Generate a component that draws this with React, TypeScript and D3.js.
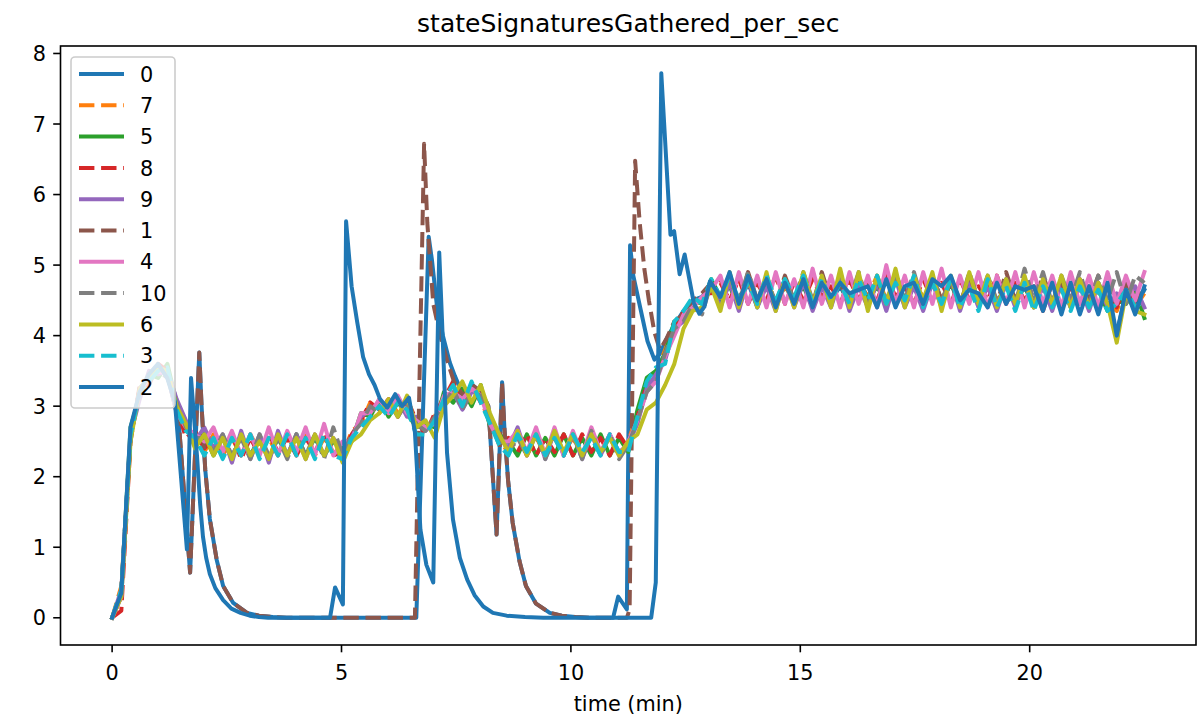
import React from 'react';
import * as d3 from 'd3';

// ---------- data ----------
// shared sampling grid (minutes) for the regularly-sampled series
const time: number[] = d3.range(113).map((i) => (i * 22.5) / 112);

const s7 = [0, 0.45, 2.55, 3.25, 3.35, 3.55, 3.45, 2.95, 2.65, 2.6,
  2.35, 2.6, 2.3, 2.55, 2.3, 2.6, 2.35, 2.55, 2.3, 2.6,
  2.35, 2.6, 2.3, 2.55, 2.35, 2.3, 2.65, 2.75, 3.05, 2.9,
  3.1, 2.9, 3.05, 2.75, 2.65, 2.85, 3.15, 3.3, 3.05, 3.25,
  3.1, 2.75, 2.5, 2.35, 2.6, 2.3, 2.55, 2.35, 2.6, 2.35,
  2.55, 2.3, 2.6, 2.35, 2.55, 2.3, 2.5, 2.9, 3.35, 3.45,
  3.8, 4.15, 4.3, 4.45, 4.5, 4.75, 4.5, 4.8, 4.45, 4.75,
  4.5, 4.8, 4.45, 4.7, 4.5, 4.85, 4.5, 4.75, 4.45, 4.8,
  4.5, 4.75, 4.55, 4.85, 4.5, 4.8, 4.45, 4.75, 4.55, 4.85,
  4.5, 4.8, 4.5, 4.7, 4.45, 4.75, 4.5, 4.8, 4.45, 4.7,
  4.45, 4.75, 4.4, 4.7, 4.45, 4.75, 4.4, 4.7, 4.45, 4.35,
  4.7, 4.4, 4.6];

const s5 = [0, 0.35, 2.7, 3.15, 3.45, 3.4, 3.6, 3.05, 2.75, 2.5,
  2.6, 2.3, 2.55, 2.25, 2.6, 2.3, 2.55, 2.25, 2.55, 2.3,
  2.6, 2.3, 2.55, 2.3, 2.5, 2.4, 2.5, 2.9, 2.85, 3.1,
  2.85, 3.05, 2.9, 2.7, 2.75, 2.7, 3.2, 3.05, 3.25, 3.0,
  3.3, 2.7, 2.6, 2.5, 2.3, 2.6, 2.3, 2.55, 2.3, 2.6,
  2.3, 2.55, 2.3, 2.6, 2.3, 2.55, 2.35, 2.95, 3.4, 3.5,
  3.75, 4.2, 4.25, 4.5, 4.45, 4.8, 4.55, 4.7, 4.4, 4.8,
  4.45, 4.75, 4.4, 4.8, 4.5, 4.7, 4.4, 4.8, 4.5, 4.75,
  4.4, 4.8, 4.5, 4.7, 4.45, 4.85, 4.5, 4.7, 4.4, 4.8,
  4.45, 4.75, 4.4, 4.8, 4.5, 4.7, 4.4, 4.75, 4.5, 4.7,
  4.4, 4.7, 4.45, 4.75, 4.4, 4.7, 4.45, 4.65, 4.35, 4.5,
  4.45, 4.65, 4.25];

const s8 = [0, 0.1, 2.5, 3.3, 3.3, 3.6, 3.5, 3.0, 2.55, 2.65,
  2.4, 2.55, 2.35, 2.6, 2.25, 2.55, 2.3, 2.6, 2.35, 2.55,
  2.3, 2.55, 2.35, 2.6, 2.3, 2.35, 2.6, 2.8, 3.05, 2.95,
  3.1, 2.85, 3.1, 2.8, 2.6, 2.9, 3.1, 3.35, 3.0, 3.3,
  3.05, 2.8, 2.45, 2.55, 2.35, 2.6, 2.3, 2.55, 2.35, 2.6,
  2.3, 2.6, 2.35, 2.55, 2.3, 2.6, 2.4, 2.85, 3.3, 3.4,
  3.7, 4.05, 4.35, 4.4, 4.6, 4.6, 4.75, 4.5, 4.8, 4.45,
  4.75, 4.5, 4.85, 4.45, 4.75, 4.5, 4.8, 4.55, 4.7, 4.45,
  4.8, 4.5, 4.75, 4.5, 4.85, 4.55, 4.7, 4.45, 4.8, 4.5,
  4.75, 4.45, 4.8, 4.5, 4.7, 4.5, 4.85, 4.45, 4.75, 4.5,
  4.7, 4.35, 4.75, 4.4, 4.7, 4.45, 4.75, 4.35, 4.7, 4.4,
  4.75, 4.5, 4.55];

const s9 = [0, 0.4, 2.6, 3.1, 3.5, 3.45, 3.5, 3.1, 2.8, 2.5,
  2.7, 2.4, 2.6, 2.2, 2.65, 2.25, 2.6, 2.2, 2.65, 2.3,
  2.6, 2.25, 2.6, 2.3, 2.55, 2.3, 2.55, 2.85, 2.95, 3.0,
  2.95, 3.1, 2.85, 2.85, 2.65, 2.8, 3.05, 3.2, 2.95, 3.2,
  3.2, 2.85, 2.55, 2.4, 2.7, 2.3, 2.65, 2.25, 2.65, 2.3,
  2.6, 2.25, 2.6, 2.3, 2.6, 2.35, 2.45, 2.75, 3.25, 3.45,
  3.65, 4.1, 4.2, 4.45, 4.5, 4.7, 4.4, 4.75, 4.35, 4.8,
  4.4, 4.7, 4.35, 4.8, 4.4, 4.75, 4.35, 4.7, 4.4, 4.8,
  4.35, 4.7, 4.4, 4.75, 4.35, 4.8, 4.4, 4.7, 4.35, 4.75,
  4.4, 4.8, 4.35, 4.75, 4.4, 4.7, 4.35, 4.75, 4.4, 4.8,
  4.4, 4.7, 4.35, 4.75, 4.4, 4.7, 4.35, 4.75, 4.4, 4.6,
  4.5, 4.7, 4.4];

const s4 = [0, 0.3, 2.65, 3.2, 3.4, 3.5, 3.45, 2.9, 2.7, 2.6,
  2.5, 2.7, 2.35, 2.65, 2.3, 2.6, 2.3, 2.7, 2.3, 2.65,
  2.35, 2.7, 2.3, 2.75, 2.3, 2.5, 2.5, 2.9, 2.9, 3.1,
  2.9, 3.15, 2.9, 2.8, 2.7, 2.75, 3.15, 3.2, 3.1, 3.25,
  3.15, 2.75, 2.5, 2.5, 2.65, 2.35, 2.7, 2.3, 2.7, 2.3,
  2.65, 2.3, 2.7, 2.35, 2.6, 2.3, 2.5, 2.8, 3.2, 3.35,
  3.7, 4.0, 4.3, 4.4, 4.55, 4.65, 4.85, 4.4, 4.9, 4.45,
  4.85, 4.4, 4.9, 4.45, 4.8, 4.4, 4.95, 4.45, 4.85, 4.4,
  4.9, 4.45, 4.85, 4.4, 5.0, 4.45, 4.85, 4.4, 4.9, 4.45,
  4.95, 4.4, 4.85, 4.45, 4.9, 4.4, 4.85, 4.45, 4.9, 4.4,
  4.9, 4.45, 4.85, 4.4, 4.9, 4.45, 4.85, 4.4, 4.9, 4.45,
  4.85, 4.5, 4.9];

const s10 = [0, 0.35, 2.6, 3.2, 3.45, 3.5, 3.4, 3.05, 2.7, 2.55,
  2.55, 2.35, 2.6, 2.3, 2.55, 2.25, 2.6, 2.3, 2.55, 2.25,
  2.6, 2.3, 2.6, 2.25, 2.7, 2.3, 2.6, 2.75, 3.0, 2.9,
  3.05, 2.85, 3.05, 2.75, 2.65, 2.85, 3.0, 3.25, 2.95, 3.2,
  3.15, 2.75, 2.55, 2.35, 2.55, 2.3, 2.6, 2.25, 2.55, 2.3,
  2.6, 2.25, 2.65, 2.3, 2.6, 2.25, 2.45, 2.8, 3.2, 3.35,
  3.75, 4.1, 4.2, 4.45, 4.3, 4.75, 4.5, 4.85, 4.5, 4.9,
  4.5, 4.85, 4.45, 4.8, 4.5, 4.9, 4.5, 4.8, 4.45, 4.85,
  4.5, 4.9, 4.45, 4.8, 4.5, 4.85, 4.5, 4.9, 4.45, 4.85,
  4.5, 4.8, 4.45, 4.9, 4.5, 4.85, 4.5, 4.8, 4.45, 4.95,
  4.5, 4.9, 4.45, 4.85, 4.5, 4.9, 4.45, 4.85, 4.5, 4.9,
  4.45, 4.85, 4.75];

const s6 = [0, 0.3, 2.5, 3.25, 3.4, 3.55, 3.5, 3.0, 2.75, 2.4,
  2.6, 2.3, 2.55, 2.25, 2.6, 2.3, 2.5, 2.25, 2.6, 2.3,
  2.55, 2.25, 2.6, 2.3, 2.55, 2.2, 2.5, 2.6, 2.8, 2.9,
  3.1, 2.85, 3.15, 2.7, 2.8, 2.55, 3.0, 3.15, 3.35, 3.05,
  3.3, 2.9, 2.6, 2.35, 2.65, 2.3, 2.6, 2.3, 2.65, 2.35,
  2.6, 2.3, 2.6, 2.35, 2.55, 2.3, 2.5, 2.6, 2.95, 3.05,
  3.3, 3.6, 4.1, 4.35, 4.4, 4.7, 4.35, 4.9, 4.4, 4.85,
  4.4, 4.9, 4.35, 4.8, 4.4, 4.9, 4.45, 4.85, 4.4, 4.95,
  4.4, 4.9, 4.35, 4.85, 4.45, 4.95, 4.4, 4.85, 4.5, 4.9,
  4.35, 4.85, 4.4, 4.9, 4.45, 4.85, 4.4, 4.8, 4.45, 4.85,
  4.4, 4.8, 4.45, 4.85, 4.4, 4.8, 4.4, 4.75, 4.45, 3.9,
  4.6, 4.35, 4.3];

const s3 = [0, 0.4, 2.6, 3.2, 3.35, 3.5, 3.55, 2.95, 2.65, 2.55,
  2.3, 2.55, 2.25, 2.55, 2.3, 2.6, 2.25, 2.55, 2.3, 2.6,
  2.3, 2.55, 2.25, 2.6, 2.3, 2.25, 2.55, 2.7, 2.85, 3.0,
  2.85, 3.05, 2.95, 2.6, 2.6, 2.8, 3.1, 3.3, 3.0, 3.35,
  3.05, 2.75, 2.45, 2.3, 2.6, 2.35, 2.6, 2.3, 2.55, 2.3,
  2.6, 2.35, 2.55, 2.3, 2.6, 2.35, 2.35, 2.85, 3.35, 3.55,
  3.6, 4.2, 4.35, 4.55, 4.45, 4.8, 4.55, 4.85, 4.5, 4.75,
  4.45, 4.85, 4.5, 4.8, 4.55, 4.85, 4.45, 4.8, 4.5, 4.75,
  4.45, 4.8, 4.5, 4.85, 4.45, 4.75, 4.5, 4.85, 4.4, 4.75,
  4.45, 4.8, 4.4, 4.7, 4.35, 4.8, 4.4, 4.7, 4.35, 4.75,
  4.35, 4.7, 4.4, 4.65, 4.35, 4.7, 4.4, 4.65, 4.35, 4.45,
  4.65, 4.4, 4.5];

// irregular segments [time, value] of the three series that drop out
const s0Head: [number, number][] = [
  [0, 0], [0.2, 0.3], [0.4, 2.55], [0.6, 3.25], [0.8, 3.4], [1.0, 3.55], [1.2, 3.45], [1.45, 2.8],
  [1.7, 0.64], [1.9, 3.76], [1.95, 3.0], [2.03, 2.1], [2.13, 1.4], [2.28, 0.82], [2.42, 0.45],
  [2.64, 0.21], [2.94, 0.07], [3.2, 0.03], [3.5, 0.01], [3.8, 0], [6.63, 0], [6.9, 5.4],
  [6.97, 5.08], [7.08, 4.42], [7.21, 4.0], [7.36, 3.62], [7.47, 3.43], [7.65, 3.15], [7.85, 3.3],
  [8.05, 3.2], [8.2, 3.0], [8.38, 1.18], [8.5, 3.34], [8.55, 2.7], [8.63, 1.95], [8.73, 1.35],
  [8.88, 0.8], [9.02, 0.45], [9.24, 0.2], [9.54, 0.07], [9.8, 0.03], [10.1, 0.01], [10.4, 0],
  [10.92, 0], [11.03, 0.3], [11.22, 0.12], [11.29, 5.28], [11.36, 4.85], [11.52, 4.37],
  [11.67, 3.92], [11.82, 3.66], [11.95, 3.75], [12.08, 3.95]];
const s0Tail = [4.15, 4.35, 4.5, 4.55, 4.7,
  4.5, 4.8, 4.45, 4.75, 4.4, 4.8, 4.45, 4.7, 4.5, 4.85, 4.45, 4.8, 4.5, 4.7, 4.45, 4.8,
  4.5, 4.75, 4.45, 4.85, 4.5, 4.7, 4.45, 4.8, 4.5, 4.75, 4.45, 4.8, 4.5, 4.7, 4.45, 4.75,
  4.5, 4.8, 4.45, 4.7, 4.4, 4.75, 4.45, 4.7, 4.4, 4.75, 4.45, 4.05, 4.6, 4.4, 4.65];

const s1Head: [number, number][] = [
  [0, 0], [0.2, 0.3], [0.4, 2.55], [0.6, 3.25], [0.8, 3.4], [1.0, 3.55], [1.2, 3.45], [1.45, 2.8],
  [1.7, 0.64], [1.9, 3.76], [1.95, 3.0], [2.03, 2.1], [2.13, 1.4], [2.28, 0.82], [2.42, 0.45],
  [2.64, 0.21], [2.94, 0.07], [3.2, 0.03], [3.5, 0.01], [3.8, 0], [6.6, 0], [6.8, 6.72],
  [6.87, 5.6], [7.0, 4.45], [7.15, 4.0], [7.3, 3.65], [7.45, 3.35], [7.65, 3.15], [7.85, 3.3],
  [8.05, 3.2], [8.2, 3.0], [8.38, 1.18], [8.5, 3.34], [8.55, 2.7], [8.63, 1.95], [8.73, 1.35],
  [8.88, 0.8], [9.02, 0.45], [9.24, 0.2], [9.54, 0.07], [9.8, 0.03], [10.1, 0.01], [10.4, 0],
  [11.22, 0], [11.28, 0.12], [11.4, 6.48], [11.5, 5.6], [11.6, 4.95], [11.7, 4.5], [11.82, 4.05],
  [11.94, 3.8], [12.08, 3.95]];
const s1Tail = [4.2, 4.3, 4.5, 4.6, 4.75,
  4.55, 4.85, 4.45, 4.9, 4.5, 4.8, 4.45, 4.85, 4.5, 4.8, 4.45, 4.9, 4.5, 4.75, 4.45, 4.85,
  4.5, 4.8, 4.45, 4.9, 4.5, 4.8, 4.45, 4.85, 4.5, 4.75, 4.45, 4.85, 4.5, 4.8, 4.45, 4.9,
  4.5, 4.8, 4.45, 4.85, 4.5, 4.75, 4.45, 4.8, 4.5, 4.85, 4.45, 4.45, 4.75, 4.5, 4.7];

const s2Head: [number, number][] = [
  [0, 0], [0.2, 0.35], [0.4, 2.7], [0.6, 3.2], [0.8, 3.45], [1.0, 3.6], [1.2, 3.4], [1.37, 3.05],
  [1.63, 0.97], [1.72, 3.4], [1.85, 2.3], [1.92, 1.6], [1.98, 1.15], [2.05, 0.85], [2.13, 0.62],
  [2.25, 0.42], [2.42, 0.25], [2.6, 0.13], [2.8, 0.07], [3.0, 0.03], [3.2, 0.01], [3.4, 0],
  [4.75, 0], [4.86, 0.43], [5.03, 0.19], [5.1, 5.62], [5.22, 4.7], [5.34, 4.2], [5.47, 3.7],
  [5.6, 3.45], [5.72, 3.3], [5.84, 3.1], [6.0, 2.98], [6.17, 3.17], [6.32, 3.0], [6.47, 3.12],
  [6.6, 2.63], [6.72, 1.25], [6.85, 0.75], [7.0, 0.5], [7.13, 5.18], [7.19, 4.23], [7.3, 2.34],
  [7.43, 1.39], [7.58, 0.85], [7.74, 0.54], [7.9, 0.32], [8.09, 0.16], [8.3, 0.07], [8.6, 0.03],
  [9.0, 0.01], [9.4, 0], [11.75, 0], [11.85, 0.5], [11.97, 7.72], [12.17, 5.43], [12.25, 5.48],
  [12.37, 4.87], [12.48, 5.15], [12.68, 4.46], [12.8, 4.31], [12.91, 4.41], [13.03, 4.77]];
const s2Tail = [4.55, 4.9, 4.45, 4.85, 4.5, 4.8, 4.4, 4.75, 4.45, 4.8, 4.4, 4.75, 4.55, 4.75,
  4.6, 4.65, 4.7, 4.4, 4.8, 4.4, 4.7, 4.75, 4.45, 4.8, 4.7, 4.85, 4.5, 4.65, 4.6, 4.4,
  4.75, 4.45, 4.7, 4.65, 4.7, 4.35, 4.75, 4.3, 4.75, 4.3, 4.7, 4.3, 4.75, 4.0, 4.65, 4.3, 4.7];

const seriesNames = ['0', '7', '5', '8', '9', '1', '4', '10', '6', '3', '2'];
const seriesColors = ['#1f77b4', '#ff7f0e', '#2ca02c', '#d62728', '#9467bd', '#8c564b',
  '#e377c2', '#7f7f7f', '#bcbd22', '#17becf', '#1f77b4'];
const xTicks = [0, 5, 10, 15, 20];
const yTicks = [0, 1, 2, 3, 4, 5, 6, 7, 8];

// ---------- helpers ----------
const onGrid = (vals: number[], start: number): [number, number][] =>
  vals.map((v, k) => [time[start + k], v] as [number, number]).filter((p) => p[0] !== undefined);

const seriesData: Record<string, [number, number][]> = {
  '0': s0Head.concat(onGrid(s0Tail, 61)),
  '1': s1Head.concat(onGrid(s1Tail, 61)),
  '2': s2Head.concat(onGrid(s2Tail, 66)),
  '7': onGrid(s7, 0),
  '5': onGrid(s5, 0),
  '8': onGrid(s8, 0),
  '9': onGrid(s9, 0),
  '4': onGrid(s4, 0),
  '10': onGrid(s10, 0),
  '6': onGrid(s6, 0),
  '3': onGrid(s3, 0),
};

const W = 1198;
const H = 721;
const AX = { left: 60.5, right: 1196, top: 46, bottom: 645 };
const FONT = "'DejaVu Sans', sans-serif";
const LW = 4;
const DASH = '15.4,6.7';

export default function App() {
  const all = Object.values(seriesData).flat();
  const [x0, x1] = d3.extent(all, (d) => d[0]) as [number, number];
  const [y0, y1] = d3.extent(all, (d) => d[1]) as [number, number];
  const xm = (x1 - x0) * 0.05;
  const ym = (y1 - y0) * 0.05;
  const x = d3.scaleLinear().domain([x0 - xm, x1 + xm]).range([AX.left, AX.right]);
  const y = d3.scaleLinear().domain([y0 - ym, y1 + ym]).range([AX.bottom, AX.top]);
  const line = d3.line<[number, number]>().x((d) => x(d[0])).y((d) => y(d[1]));

  const legX = 71, legY = 57, legW = 104, legH = 351;
  const rowY0 = 74, rowDy = 31.3;

  return (
    <svg width={W} height={H} style={{ position: 'absolute', left: 0, top: 0, background: '#fff' }}
      fontFamily={FONT}>
      <rect x={0} y={0} width={W} height={H} fill="#fff" />
      <defs>
        <clipPath id="plotclip">
          <rect x={AX.left} y={AX.top} width={AX.right - AX.left} height={AX.bottom - AX.top} />
        </clipPath>
      </defs>
      <g clipPath="url(#plotclip)">
        {seriesNames.map((name, i) => (
          <path key={name} d={line(seriesData[name]) || ''} fill="none" stroke={seriesColors[i]}
            strokeWidth={LW} strokeLinejoin="round" strokeLinecap={i % 2 ? 'butt' : 'square'}
            strokeDasharray={i % 2 ? DASH : undefined} />
        ))}
      </g>
      {/* spines */}
      <rect x={AX.left} y={AX.top} width={AX.right - AX.left} height={AX.bottom - AX.top}
        fill="none" stroke="#000" strokeWidth={1.6} />
      {/* x ticks */}
      {xTicks.map((t) => (
        <g key={'x' + t}>
          <line x1={x(t)} x2={x(t)} y1={AX.bottom} y2={AX.bottom + 7.3} stroke="#000" strokeWidth={1.6} />
          <text x={x(t)} y={680} fontSize={20.8} textAnchor="middle" fill="#000">{t}</text>
        </g>
      ))}
      {yTicks.map((t) => (
        <g key={'y' + t}>
          <line x1={AX.left - 7.3} x2={AX.left} y1={y(t)} y2={y(t)} stroke="#000" strokeWidth={1.6} />
          <text x={46} y={y(t) + 7.6} fontSize={20.8} textAnchor="end" fill="#000">{t}</text>
        </g>
      ))}
      <text x={(AX.left + AX.right) / 2} y={711} fontSize={20.8} textAnchor="middle" fill="#000">time (min)</text>
      <text x={(AX.left + AX.right) / 2} y={32} fontSize={25} textAnchor="middle" fill="#000">stateSignaturesGathered_per_sec</text>
      {/* legend */}
      <rect x={legX} y={legY} width={legW} height={legH} rx={4} ry={4} fill="#fff" fillOpacity={0.8}
        stroke="#cccccc" strokeWidth={1.6} />
      {seriesNames.map((name, i) => {
        const ry = rowY0 + i * rowDy;
        return (
          <g key={'leg' + name}>
            <line x1={79} x2={124} y1={ry} y2={ry} stroke={seriesColors[i]} strokeWidth={LW}
              strokeDasharray={i % 2 ? DASH : undefined} />
            <text x={140} y={ry + 7.6} fontSize={20.8} fill="#000">{name}</text>
          </g>
        );
      })}
    </svg>
  );
}
